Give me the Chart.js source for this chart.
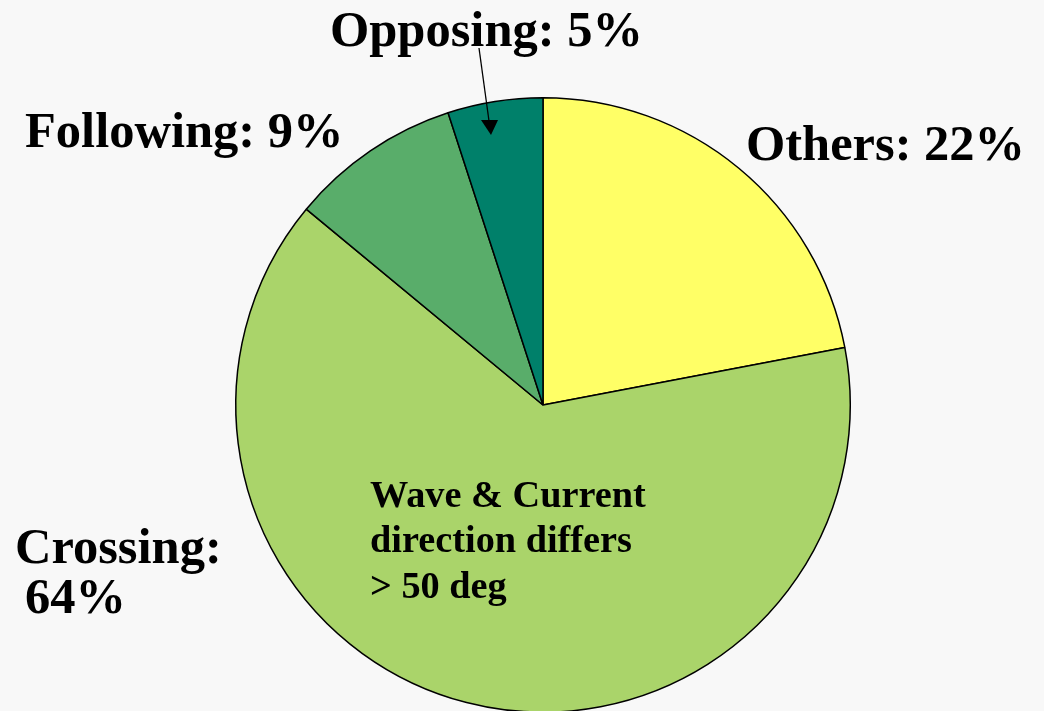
<!DOCTYPE html>
<html>
<head>
<meta charset="utf-8">
<script src="https://cdn.jsdelivr.net/npm/chart.js@4"></script>
<style>
  html, body { margin: 0; padding: 0; background: #f8f8f8; overflow: hidden; }
  #wrap { width: 1044px; height: 730px; position: relative; }
</style>
</head>
<body>
<div id="wrap"><canvas id="chartPie"></canvas></div>
<script>
  const categories = ['Others', 'Crossing', 'Following', 'Opposing'];
  const shares = [22, 64, 9, 5];
  const sliceColors = ['#ffff66', '#aad46a', '#59ad6a', '#00806a'];
  const noteLines = ['Wave & Current', 'direction differs', '> 50 deg'];

  // where each slice's label goes (text lines, left x, baselines)
  const labelSpots = [
    { x: 746, y: [160] },
    { x: 15, y: [563, 613], split: true },
    { x: 25, y: [147] },
    { x: 330, y: [46] }
  ];

  const labelPlugin = {
    id: 'pieLabels',
    afterDraw(chart) {
      const ctx = chart.ctx;
      ctx.save();
      ctx.fillStyle = '#000';
      ctx.textBaseline = 'alphabetic';
      ctx.textAlign = 'left';
      ctx.font = 'bold 50.5px "Liberation Serif", "Times New Roman", serif';
      categories.forEach((cat, i) => {
        const spot = labelSpots[i];
        if (spot.split) {
          ctx.fillText(cat + ':', spot.x, spot.y[0]);
          ctx.fillText(shares[i] + '%', spot.x + 10, spot.y[1]);
        } else {
          ctx.fillText(cat + ': ' + shares[i] + '%', spot.x, spot.y[0]);
        }
      });

      // arrow from the Opposing label into its slice
      ctx.strokeStyle = '#000';
      ctx.lineWidth = 1.3;
      ctx.beginPath();
      ctx.moveTo(479, 48);
      ctx.lineTo(489, 121);
      ctx.stroke();
      ctx.beginPath();
      ctx.moveTo(481, 120);
      ctx.lineTo(498, 120);
      ctx.lineTo(491, 135);
      ctx.closePath();
      ctx.fill();

      // note inside the Crossing slice
      ctx.font = 'bold 38.3px "Liberation Serif", "Times New Roman", serif';
      const noteY = [507, 552, 598];
      noteLines.forEach((t, k) => ctx.fillText(t, 370, noteY[k]));
      ctx.restore();
    }
  };

  new Chart(document.getElementById('chartPie'), {
    type: 'pie',
    data: {
      labels: categories,
      datasets: [{
        data: shares,
        backgroundColor: sliceColors,
        borderColor: '#000',
        borderWidth: 1.5,
        hoverOffset: 0,
        offset: 0
      }]
    },
    options: {
      responsive: true,
      maintainAspectRatio: false,
      animation: false,
      events: [],
      layout: { padding: { left: 235, right: 193, top: 97, bottom: 17 } },
      plugins: {
        legend: { display: false },
        tooltip: { enabled: false }
      }
    },
    plugins: [labelPlugin]
  });
</script>
</body>
</html>
